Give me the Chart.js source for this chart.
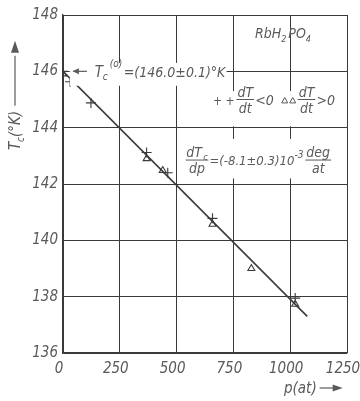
<!DOCTYPE html>
<html>
<head>
<meta charset="utf-8">
<script src="https://cdn.jsdelivr.net/npm/chart.js@4.4.1/dist/chart.umd.min.js"></script>
<style>
  html, body { margin: 0; padding: 0; background: #fff; }
  #wrap { width: 360px; height: 401px; position: relative; }
</style>
</head>
<body>
<div id="wrap"><canvas id="tcChart"></canvas></div>
<script>
// Data: p in at, Tc in K
const plusP = [0, 31, 123, 368, 461, 658, 1022];
const plusT = [146.0, 145.63, 144.88, 143.12, 142.4, 140.78, 137.95];
const triP = [0, 368, 439, 658, 829, 1022];
const triT = [145.91, 142.9, 142.48, 140.57, 139.0, 137.73];
const fitP = [0, 1075];
const fitT = [146.0, 137.3];
const xTicks = [0, 250, 500, 750, 1000, 1250];
const yTicks = [136, 138, 140, 142, 144, 146, 148];

const FONT = "'DejaVu Sans Condensed', 'Liberation Sans Narrow', sans-serif";
const INK = '#3a3a3a';
const TXT = '#5a5a5a';

const toPts = (xs, ys) => xs.map((x, i) => ({ x: x, y: ys[i] }));

function font(size) {
    return `italic ${size}px ${FONT}`;
}

// draws a run of text pieces: [text, size, dy, gapAfter]
function run(c, x, y, parts) {
    parts.forEach(p => {
        c.font = font(p[1]);
        c.fillText(p[0], x, y + (p[2] || 0));
        x += c.measureText(p[0]).width + (p[3] || 0);
    });
    return x;
}

function frac(c, x, y, top, bot, size) {
    c.font = font(size);
    const w = Math.max(c.measureText(top[0]).width + (top[1] ? 5 : 0), c.measureText(bot).width) + 2;
    c.textAlign = 'center';
    c.fillText(top[0], x + w / 2 - (top[1] ? 3 : 0), y - 3);
    if (top[1]) {
        c.font = font(size * 0.65);
        c.textAlign = 'left';
        c.fillText(top[1], x + w / 2 + c.measureText(top[0]).width / 2 + 1, y);
        c.font = font(size);
        c.textAlign = 'center';
    }
    c.fillText(bot, x + w / 2, y + size - 1);
    c.textAlign = 'left';
    c.beginPath();
    c.moveTo(x, y);
    c.lineTo(x + w, y);
    c.lineWidth = 1;
    c.strokeStyle = TXT;
    c.stroke();
    return x + w;
}

function tri(c, x, y, s) {
    c.beginPath();
    c.moveTo(x, y - s);
    c.lineTo(x + s, y + s * 0.8);
    c.lineTo(x - s, y + s * 0.8);
    c.closePath();
    c.stroke();
}

const notesPlugin = {
    id: 'notes',
    afterDraw(chart) {
        const c = chart.ctx;
        const xs = chart.scales.x, ys = chart.scales.y;
        const px = v => xs.getPixelForValue(v);
        const py = v => ys.getPixelForValue(v);
        c.save();
        c.fillStyle = '#fff';
        // white patches behind labels, hiding grid as in the picture
        c.fillRect(px(30), py(146.3), px(720) - px(30), py(145.7) - py(146.3) + 6);
        c.fillRect(px(645), py(145.3), px(1210) - px(645), py(144.05) - py(145.3));
        c.fillRect(px(530), py(143.6), px(1210) - px(530), py(142.2) - py(143.6));

        c.fillStyle = TXT;
        c.strokeStyle = TXT;
        c.textBaseline = 'alphabetic';
        c.textAlign = 'left';

        // Tc(o) label with arrow
        const ay = py(146.0);
        c.beginPath();
        c.moveTo(px(45), ay);
        c.lineTo(px(105), ay);
        c.lineWidth = 1.2;
        c.stroke();
        c.beginPath();
        c.moveTo(px(42), ay);
        c.lineTo(px(70), ay - 3);
        c.lineTo(px(70), ay + 3);
        c.closePath();
        c.fill();
        let x = px(140);
        c.font = font(15);
        c.fillText('T', x, ay + 6);
        c.font = font(10);
        c.fillText('c', x + 8, ay + 9);
        c.fillText('(o)', x + 15, ay - 4);
        run(c, x + 29, ay + 6, [['=(146.0±0.1)°K', 14]]);

        // substance
        x = px(845);
        run(c, x, py(147.2), [['RbH', 14], ['2', 9, 4, 2], ['PO', 14], ['4', 9, 4]]);

        // legend for cooling / heating
        const ly = py(145.0);
        x = run(c, px(660), ly + 5, [['+ +', 12]]);
        x = frac(c, x + 2, ly, ['dT'], 'dt', 14);
        x = run(c, x + 1, ly + 5, [['<0', 14]]);
        c.lineWidth = 1;
        tri(c, x + 11, ly + 1, 3);
        tri(c, x + 19, ly + 1, 3);
        x = frac(c, x + 24, ly, ['dT'], 'dt', 14);
        run(c, x + 1, ly + 5, [['>0', 14]]);

        // slope
        const sy = py(142.85);
        x = frac(c, px(540), sy, ['dT', 'c'], 'dp', 14);
        x = run(c, x + 1, sy + 5, [['=(-8.1±0.3)10', 13]]);
        x = run(c, x, sy - 2, [['-3', 10]]);
        frac(c, x + 2, sy, ['deg'], 'at', 14);

        // x axis title
        c.font = font(15);
        const tx = 284, tyy = 393;
        c.fillText('p(at)', tx, tyy);
        const tw = c.measureText('p(at)').width;
        c.beginPath();
        c.moveTo(tx + tw + 3, tyy - 5);
        c.lineTo(tx + tw + 20, tyy - 5);
        c.lineWidth = 1.2;
        c.stroke();
        c.beginPath();
        c.moveTo(tx + tw + 26, tyy - 5);
        c.lineTo(tx + tw + 16, tyy - 8.5);
        c.lineTo(tx + tw + 16, tyy - 1.5);
        c.closePath();
        c.fill();

        // y axis title (rotated)
        c.translate(20, 150);
        c.rotate(-Math.PI / 2);
        c.font = font(15);
        c.fillText('T', 0, 0);
        c.font = font(10);
        c.fillText('c', 8, 4);
        const w2 = run(c, 13, 0, [['(°K)', 15]]);
        c.beginPath();
        c.moveTo(w2 + 5, -5);
        c.lineTo(w2 + 55, -5);
        c.lineWidth = 1.2;
        c.stroke();
        c.beginPath();
        c.moveTo(w2 + 70, -5);
        c.lineTo(w2 + 58, -9);
        c.lineTo(w2 + 58, -1);
        c.closePath();
        c.fill();
        c.restore();
    }
};

new Chart(document.getElementById('tcChart'), {
    type: 'scatter',
    data: {
        datasets: [
            {
                type: 'line',
                data: toPts(fitP, fitT),
                borderColor: INK,
                borderWidth: 1.6,
                pointRadius: 0,
                fill: false
            },
            {
                data: toPts(plusP, plusT),
                pointStyle: 'cross',
                pointRadius: 5,
                borderColor: INK,
                borderWidth: 1.1
            },
            {
                data: toPts(triP, triT),
                pointStyle: 'triangle',
                pointRadius: 4,
                borderColor: INK,
                backgroundColor: 'rgba(255,255,255,0)',
                borderWidth: 1.1
            }
        ]
    },
    options: {
        responsive: true,
        maintainAspectRatio: false,
        animation: false,
        layout: { padding: { top: 15, right: 13, left: 0, bottom: 0 } },
        plugins: { legend: { display: false }, tooltip: { enabled: false } },
        scales: {
            x: {
                type: 'linear',
                min: 0,
                max: 1250,
                afterBuildTicks: s => { s.ticks = xTicks.map(v => ({ value: v })); },
                afterFit: s => { s.height = 48; s.paddingLeft = 0; s.paddingRight = 0; },
                grid: { color: INK, lineWidth: 1, drawTicks: false },
                border: { color: INK, width: 1.3 },
                ticks: {
                    color: TXT,
                    padding: 7,
                    labelOffset: -4,
                    callback: v => String(v),
                    font: { family: FONT, style: 'italic', size: 15 }
                }
            },
            y: {
                type: 'linear',
                min: 136,
                max: 148,
                afterBuildTicks: s => { s.ticks = yTicks.map(v => ({ value: v })); },
                afterFit: s => { s.width = 63; s.paddingTop = 0; s.paddingBottom = 0; },
                grid: { color: INK, lineWidth: 1, drawTicks: false },
                border: { color: INK, width: 1.3 },
                ticks: {
                    color: TXT,
                    padding: 5,
                    callback: v => String(v),
                    font: { family: FONT, style: 'italic', size: 15 }
                }
            }
        }
    },
    plugins: [notesPlugin]
});
</script>
</body>
</html>
